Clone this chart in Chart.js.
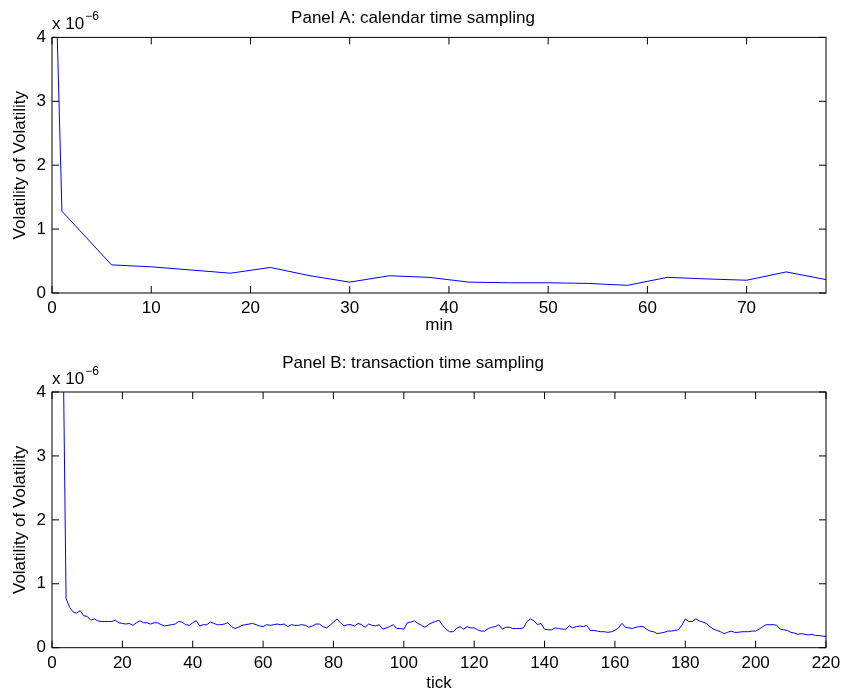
<!DOCTYPE html>
<html><head><meta charset="utf-8">
<script src="https://cdn.jsdelivr.net/npm/chart.js@4"></script>
<style>
html,body{margin:0;padding:0;background:#fff;}
#wrap{position:relative;width:841px;height:694px;background:#fff;}
#a{position:absolute;left:0;top:0;width:841px;height:345px;}
#b{position:absolute;left:0;top:345px;width:841px;height:349px;}
</style></head><body>
<div id="wrap"><canvas id="a" width="841" height="345"></canvas><canvas id="b" width="841" height="349"></canvas></div>
<script>
// ---------- data (values in units of 1e-6) ----------
const yExponent = -6;
const yTicks = [0, 1, 2, 3, 4];

const panelATitle = 'Panel A: calendar time sampling';
const panelAXTitle = 'min';
const panelAXTicks = [0, 10, 20, 30, 40, 50, 60, 70];
const panelAMinutes = [0, 1, 6, 10, 14, 18, 22, 26, 30, 34, 38, 42, 46, 50, 54, 58, 62, 66, 70, 74, 78];
const panelAVoV = [7.1, 1.28, 0.44, 0.41, 0.36, 0.31, 0.40, 0.27, 0.17, 0.27, 0.245, 0.17, 0.16, 0.16, 0.15, 0.12, 0.245, 0.22, 0.20, 0.33, 0.21];

const panelBTitle = 'Panel B: transaction time sampling';
const panelBXTitle = 'tick';
const panelBXTicks = [0, 20, 40, 60, 80, 100, 120, 140, 160, 180, 200, 220];
const panelBFirstTick = 3;
const panelBVoV = [
  5.5,
  0.77, 0.63, 0.56, 0.54, 0.58, 0.50, 0.49, 0.43, 0.45, 0.42, 0.41, 0.41, 0.41, 0.41, 0.43, 0.39, 0.38, // 4-20
  0.37, 0.38, 0.35, 0.39, 0.42, 0.39, 0.39, 0.37, 0.39, 0.39, 0.36, 0.34, 0.35, 0.36, 0.37, 0.41, 0.40, 0.36, 0.35, 0.39, // 21-40
  0.42, 0.34, 0.36, 0.36, 0.40, 0.38, 0.36, 0.36, 0.37, 0.39, 0.33, 0.30, 0.32, 0.35, 0.36, 0.37, 0.38, 0.36, 0.34, 0.33, // 41-60
  0.36, 0.35, 0.36, 0.37, 0.36, 0.37, 0.33, 0.36, 0.35, 0.35, 0.36, 0.35, 0.32, 0.34, 0.37, 0.37, 0.33, 0.31, 0.35, 0.40, // 61-80
  0.45, 0.39, 0.34, 0.36, 0.36, 0.34, 0.38, 0.36, 0.32, 0.37, 0.35, 0.34, 0.36, 0.29, 0.31, 0.33, 0.36, 0.30, 0.30, 0.29, // 81-100
  0.39, 0.40, 0.42, 0.38, 0.35, 0.32, 0.36, 0.39, 0.41, 0.43, 0.35, 0.29, 0.25, 0.25, 0.30, 0.33, 0.29, 0.33, 0.31, 0.31, // 101-120
  0.28, 0.26, 0.26, 0.30, 0.32, 0.33, 0.36, 0.29, 0.32, 0.32, 0.30, 0.30, 0.30, 0.31, 0.41, 0.45, 0.42, 0.36, 0.38, 0.29, // 121-140
  0.28, 0.28, 0.31, 0.30, 0.29, 0.29, 0.34, 0.31, 0.33, 0.34, 0.33, 0.35, 0.27, 0.27, 0.26, 0.25, 0.25, 0.24, 0.25, 0.27, // 141-160
  0.31, 0.38, 0.32, 0.31, 0.30, 0.32, 0.33, 0.33, 0.29, 0.26, 0.25, 0.22, 0.23, 0.24, 0.26, 0.26, 0.27, 0.28, 0.35, 0.45, // 161-180
  0.41, 0.41, 0.45, 0.42, 0.40, 0.38, 0.33, 0.29, 0.27, 0.25, 0.22, 0.24, 0.26, 0.24, 0.24, 0.25, 0.25, 0.25, 0.26, 0.26, // 181-200
  0.29, 0.33, 0.36, 0.36, 0.36, 0.35, 0.29, 0.28, 0.27, 0.24, 0.23, 0.21, 0.22, 0.21, 0.20, 0.21, 0.19, 0.19, 0.18, 0.18  // 201-220
];

// ---------- drawing ----------
const FONT = "'Liberation Sans', Arial, Helvetica, sans-serif";
const FS = 17;
const TICK_LEN = 7;

const framePlugin = {
  id: 'matlabFrame',
  afterDatasetsDraw(chart) {
    const {ctx, chartArea: {left, right, top, bottom}, scales: {x, y}} = chart;
    ctx.save();
    ctx.strokeStyle = '#000';
    ctx.lineWidth = 1;
    ctx.strokeRect(left, top, right - left, bottom - top);
    ctx.beginPath();
    x.ticks.forEach(t => {
      const px = x.getPixelForValue(t.value);
      ctx.moveTo(px, bottom); ctx.lineTo(px, bottom - TICK_LEN);
      ctx.moveTo(px, top); ctx.lineTo(px, top + TICK_LEN);
    });
    y.ticks.forEach(t => {
      const py = y.getPixelForValue(t.value);
      ctx.moveTo(left, py); ctx.lineTo(left + TICK_LEN, py);
      ctx.moveTo(right, py); ctx.lineTo(right - TICK_LEN, py);
    });
    ctx.stroke();
    // exponent label
    ctx.fillStyle = '#000';
    ctx.textAlign = 'left';
    ctx.textBaseline = 'alphabetic';
    ctx.font = FS + 'px ' + FONT;
    const base = 'x 10';
    ctx.fillText(base, left, top - 8);
    const w = ctx.measureText(base).width;
    ctx.font = '12px ' + FONT;
    ctx.fillText('\u2212' + Math.abs(yExponent), left + w + 1, top - 17);
    ctx.restore();
  }
};

function makeChart(id, cfg) {
  const font = {family: FONT, size: FS, weight: 'normal'};
  return new Chart(document.getElementById(id), {
    type: 'line',
    data: {
      datasets: [{
        data: cfg.xs.map((xv, i) => ({x: xv, y: cfg.ys[i]})),
        borderColor: '#0000ff',
        borderWidth: 1,
        pointRadius: 0,
        tension: 0,
        fill: false
      }]
    },
    options: {
      responsive: false,
      animation: false,
      layout: {padding: {left: 0, right: 15, top: 0, bottom: 0}},
      plugins: {
        legend: {display: false},
        tooltip: {enabled: false},
        title: {display: true, text: cfg.title, color: '#000', font: font, padding: {top: 8, bottom: cfg.titleBottom}}
      },
      scales: {
        x: {
          type: 'linear', min: 0, max: cfg.xMax,
          grid: {display: false, drawTicks: false}, border: {display: false},
          afterBuildTicks: s => { s.ticks = cfg.xTicks.map(v => ({value: v})); },
          afterFit: s => { s.height = cfg.xAxisHeight; s.paddingLeft = 0; s.paddingRight = 0; },
          ticks: {color: '#000', font: font, padding: 5, maxRotation: 0, autoSkip: false},
          title: {display: true, text: cfg.xTitle, color: '#000', font: font, padding: {top: 0, bottom: cfg.xTitlePad}}
        },
        y: {
          type: 'linear', min: 0, max: 4,
          grid: {display: false, drawTicks: false}, border: {display: false},
          afterBuildTicks: s => { s.ticks = yTicks.map(v => ({value: v})); },
          afterFit: s => { s.width = 52; s.paddingTop = 0; s.paddingBottom = 0; },
          ticks: {color: '#000', font: font, padding: 6},
          title: {display: true, text: 'Volatility of Volatility', color: '#000', font: font, padding: {top: 10, bottom: 0}}
        }
      }
    },
    plugins: [framePlugin]
  });
}

makeChart('a', {
  title: panelATitle, titleBottom: 9,
  xs: panelAMinutes, ys: panelAVoV, xMax: 78, xTicks: panelAXTicks,
  xTitle: panelAXTitle, xAxisHeight: 52, xTitlePad: 9
});

makeChart('b', {
  title: panelBTitle, titleBottom: 18.6,
  xs: panelBVoV.map((_, i) => panelBFirstTick + i), ys: panelBVoV, xMax: 220, xTicks: panelBXTicks,
  xTitle: panelBXTitle, xAxisHeight: 46.3, xTitlePad: 0
});
</script></body></html>
